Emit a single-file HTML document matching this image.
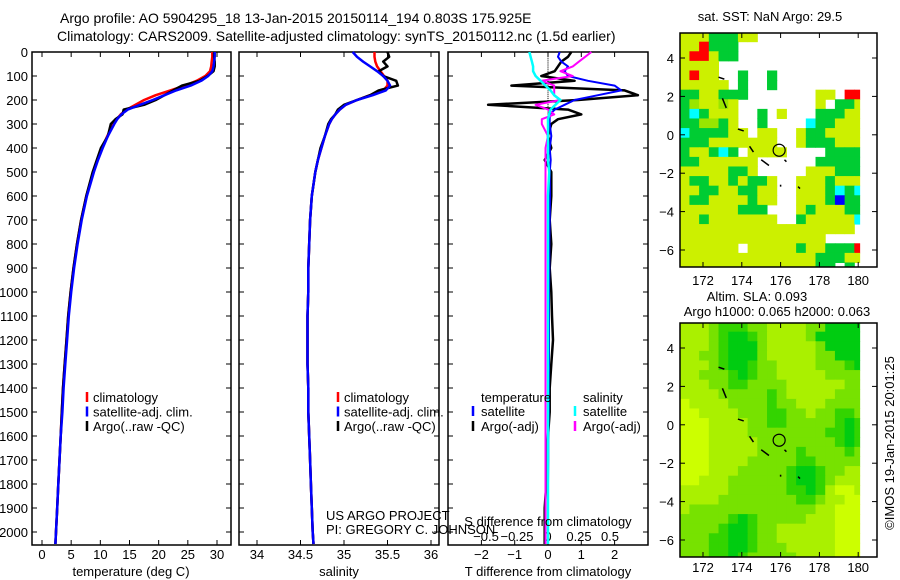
<!DOCTYPE html>
<html><head><meta charset="utf-8"><style>
body{margin:0;background:#fff}
svg{display:block;font-family:"Liberation Sans",sans-serif}
text{fill:#000}
</style></head><body>
<svg id="c" width="900" height="580" viewBox="0 0 900 580"></svg>
<script>
// ---------- data ----------
const depths=[0,20,40,60,80,100,120,140,160,180,200,220,240,260,280,300,350,400,450,500,600,700,800,900,1000,1100,1200,1300,1400,1500,1600,1700,1800,1900,2000,2050];
const tempClim=[29.2,29.2,29.1,29.0,28.8,28,26.5,24.5,22,19.5,17.5,16,14.5,13.5,12.8,12.2,11.2,10.3,9.5,8.8,7.6,6.7,6.0,5.4,4.9,4.5,4.2,3.9,3.6,3.4,3.2,3.0,2.8,2.6,2.4,2.3];
const tempSat=[29.6,29.6,29.5,29.4,29.2,28.5,27.3,25.5,23,21,19,16.8,14.7,13.6,12.9,12.4,11.3,10.4,9.6,8.9,7.7,6.8,6.1,5.5,5.0,4.6,4.3,4.0,3.7,3.5,3.2,3.0,2.8,2.6,2.4,2.3];
const tempArgo=[29.5,29.5,29.6,29.6,29.4,28.4,27,24,22.5,21,19.5,17.5,14.0,13.8,12.6,11.8,11.3,10.1,9.4,8.7,7.6,6.7,6.0,5.4,4.9,4.5,4.2,3.9,3.6,3.4,3.2,3.0,2.8,2.6,2.4,2.3];
const salClim=[35.35,35.35,35.36,35.38,35.42,35.46,35.5,35.5,35.45,35.3,35.15,35.02,34.95,34.9,34.86,34.83,34.78,34.74,34.7,34.67,34.63,34.61,34.6,34.59,34.59,34.58,34.58,34.58,34.59,34.59,34.6,34.61,34.62,34.63,34.64,34.65];
const salSat=[35.1,35.15,35.22,35.3,35.38,35.45,35.5,35.53,35.48,35.33,35.15,35.02,34.95,34.9,34.86,34.83,34.78,34.74,34.7,34.67,34.63,34.61,34.6,34.59,34.59,34.58,34.58,34.58,34.59,34.59,34.6,34.61,34.62,34.63,34.64,34.65];
const salArgo=[35.5,35.52,35.45,35.5,35.4,35.45,35.6,35.62,35.4,35.3,35.15,35.0,34.93,34.9,34.85,34.82,34.78,34.73,34.7,34.67,34.63,34.61,34.6,34.59,34.59,34.58,34.58,34.58,34.59,34.59,34.6,34.61,34.62,34.63,34.64,34.65];
const tDiffSat=[0.35,0.3,0.4,0.6,0.5,0.6,1.2,2.0,2.2,1.5,0.8,0.5,0.2,0.05,0.05,0.05,0.1,0.05,0.08,0.05,0.06,0.05,0.04,0.04,0.03,0.03,0.03,0.03,0.02,0.02,0.01,0.01,0.0,0.0,0.0,0.0];
const tDiffArgo=[0.7,0.6,0.4,0.3,0.2,-0.2,0.8,-1.1,2.3,2.7,0.9,-1.8,0.6,1.0,0.3,0.1,0.0,0.1,-0.1,0.1,0.1,0.05,0.1,0.05,0.1,0.12,0.15,0.1,0.05,0.05,0.0,-0.05,-0.05,-0.1,-0.1,-0.1];
const sDiffSat=[-0.15,-0.14,-0.13,-0.12,-0.12,-0.1,-0.06,-0.02,0.02,0.05,0.1,0.06,0.02,0.01,0.0,0.0,0.0,0.0,0.0,0.01,0.0,0.0,0.0,0.0,0.0,0.0,0.0,0.0,0.0,0.0,0.0,0.0,0.0,0.0,0.0,0.0];
const sDiffArgo=[0.35,0.3,0.25,0.2,0.1,0.2,-0.05,0.05,0.05,0.05,0.1,-0.1,0.0,0.05,-0.05,-0.05,0.0,-0.02,-0.02,-0.02,-0.02,-0.02,-0.02,-0.02,-0.02,-0.02,-0.02,-0.02,-0.02,-0.02,-0.02,-0.02,-0.02,-0.02,-0.02,-0.02];
const depthTicks=[0,100,200,300,400,500,600,700,800,900,1000,1100,1200,1300,1400,1500,1600,1700,1800,1900,2000];
const tempTicks=[0,5,10,15,20,25,30];
const salTicks=[34,34.5,35,35.5,36];
const tdTicks=[-2,-1,0,1,2];
const sdTicks=[-0.5,-0.25,0,0.25,0.5];
const lonTicks=[172,174,176,178,180];
const latTicks=[4,2,0,-2,-4,-6];
const sstGrid=[
"yyygggyywwwwwwwwwww","yyrgggwwwwwwwwwwwww","yrryggwwwwwwwwwwwww","yyyywwwwwwwwwwwwwww",
"yryywwgwwgwwwwwwwww","yyyyywgwwgwwwwwwwww","ggyygggwwwwwwwyywrr","gGyyGywwwwwwwwywggy",
"gcgyyywwgwywwwgggyy","ggGGgywwgwwwwcggyyy","cggggyywyywwyggyyyy","gggyyyyyyywwygggyyy",
"gyygcgwyyyywwwwgggg","ggyyyyyywwwwwwggggg","yyyyyggywwwwwyyyggg","yggyygyggywwyyygyyy",
"yyggyyggyywwyyygcgc","yggyyyygyywwyyygbgg","yyyyyygggwwwygyyygg","yygyyyyyyywwgyyyyyc",
"yyyyyyyyyyyyyyyyyyw","yyyyyyyyyyyyyyywwww","yyyyyywyyyyygyygggr","yyyyyyyyyyyyyygggyy","yyyyyyyyyyyyyyggwgw"];
const slaGrid=[
"lllmgggmmllllmmdddd","lllmgddgmllllmddddd","lllmgdddmlllllmdddd","llmmgdddmlllllmmddd",
"lllmgddgmmllllmmmgd","llmmmgdgmmlllllmmmm","lllmmggmmmmllllllmm","llllmmmmmgmlllllmmm",
"yllllmmmmgmmlllmmmm","yyllllmmmggmmlmmggm","yyyllllmmggmmmmmgdg","yyyllllmmmmmmmmggdg",
"yyylllllmmmmmmmmgdg","yyylllllmmmmgmmmmgm","yyyllllmmmmmggmmmmm","yyylllmmmmmgddgmmll",
"yylllmmmmmmgddgmlll","lllllmmmmmmggdglyyl","llllmmmmmmmmggmllyy","lmmmmmmmmmmmmmllyyy",
"mmmmmgdgmmmmmlllyyy","mmmmgddgmmllllllyyy","mmmggddgmmllllllyyy","mmmggddgmmmlllllyyy","mmmggdgmmmmmllllyyy"];
const argoLon=175.925, argoLat=-0.803;
// ---------- helpers ----------
const S=document.getElementById('c'),NS='http://www.w3.org/2000/svg';
function el(t,a,p){const e=document.createElementNS(NS,t);for(const k in a)e.setAttribute(k,a[k]);(p||S).appendChild(e);return e;}
function txt(x,y,s,anchor,size,name){const e=el('text',{x:x,y:y,'font-size':size||13,'text-anchor':anchor||'start'});e.textContent=s;


return e;}
const yD=d=>52+d*0.24;
const xT=t=>42+t*5.833;
const xS=s=>257+(s-34)*87;
const xTD=t=>548+t*33.3;
const xSD=s=>548+s*124;
function line(xf,vals,color,w,name){const pts=depths.map((d,i)=>xf(vals[i]).toFixed(1)+','+yD(d).toFixed(1)).join(' ');
const p=el('polyline',{points:pts,fill:'none',stroke:color,'stroke-width':w||2.5,'stroke-linejoin':'round'});


return p;}
function box(x0,y0,x1,y1,name){const r=el('rect',{x:x0,y:y0,width:x1-x0,height:y1-y0,fill:'none',stroke:'#000','stroke-width':1.5});

}
function depthAxis(x0,x1,labels){depthTicks.forEach(d=>{const y=yD(d);el('line',{x1:x0,y1:y,x2:x0+5,y2:y,stroke:'#000'});el('line',{x1:x1-5,y1:y,x2:x1,y2:y,stroke:'#000'});
if(labels)txt(x0-4,y+5,String(d),'end',13,'depth-tick-label');});}
function xAxis(ticks,xf,x0,y0,y1,labY,name,fmt){ticks.forEach(t=>{const x=xf(t);el('line',{x1:x,y1:y1,x2:x,y2:y1-5,stroke:'#000'});el('line',{x1:x,y1:y0,x2:x,y2:y0+5,stroke:'#000'});
if(labY)txt(x,labY,fmt?fmt(t):String(t),'middle',13,name);});}
function legendMark(x,y,color){const m=el('line',{x1:x,y1:y-10,x2:x,y2:y,stroke:color,'stroke-width':2.5});

}
// titles
txt(60,23,'Argo profile: AO 5904295_18 13-Jan-2015 20150114_194 0.803S 175.925E','start',14,'title-line-1');
txt(57,41,'Climatology: CARS2009. Satellite-adjusted climatology: synTS_20150112.nc (1.5d earlier)','start',14,'title-line-2');
// panel 1
const pTop=52,pBot=545;
box(32,pTop,231,pBot,'temperature-panel');
depthAxis(32,231,true);
xAxis(tempTicks,xT,32,pTop,pBot,559,'temperature-tick-label');
line(xT,tempClim,'#f00',2.5,'temperature-climatology-line');
line(xT,tempArgo,'#000',2.5,'temperature-argo-line');
line(xT,tempSat,'#00f',2.5,'temperature-satellite-line');
txt(131,576,'temperature (deg C)','middle',13,'temperature-axis-title');
[['climatology','#f00'],['satellite-adj. clim.','#00f'],['Argo(..raw -QC)','#000']].forEach((l,i)=>{legendMark(87,402+i*14.5,l[1]);txt(93,402+i*14.5,l[0],'start',13,'legend-entry');});
// panel 2
box(239,pTop,439,pBot,'salinity-panel');
depthAxis(239,439,false);
xAxis(salTicks,xS,239,pTop,pBot,559,'salinity-tick-label');
line(xS,salClim,'#f00',2.5,'salinity-climatology-line');
line(xS,salArgo,'#000',2.5,'salinity-argo-line');
line(xS,salSat,'#00f',2.5,'salinity-satellite-line');
txt(339,576,'salinity','middle',13,'salinity-axis-title');
[['climatology','#f00'],['satellite-adj. clim.','#00f'],['Argo(..raw -QC)','#000']].forEach((l,i)=>{legendMark(338,402+i*14.5,l[1]);txt(344,402+i*14.5,l[0],'start',13,'legend-entry');});
txt(326,520,'US ARGO PROJECT','start',13,'project-credit');
txt(326,534,'PI: GREGORY C. JOHNSON','start',13,'pi-credit');
// panel 3
box(448,pTop,648,pBot,'difference-panel');
depthAxis(448,648,false);
xAxis(tdTicks,xTD,448,pTop,pBot,559,'t-diff-tick-label',t=>t<0?'\u2212'+(-t):String(t));
sdTicks.forEach(t=>txt(xSD(t),541,t<0?'\u2212'+(-t):String(t),'middle',13,'s-diff-tick-label'));
for(let d=0;d<=400;d+=8)el('rect',{x:547.5,y:yD(d),width:1,height:1,fill:'#000'});
line(xTD,tDiffArgo,'#000',2.5,'t-diff-argo-line');
line(xTD,tDiffSat,'#00f',2,'t-diff-satellite-line');
line(xSD,sDiffArgo,'#f0f',2,'s-diff-argo-line');
line(xSD,sDiffSat,'#0ff',2.5,'s-diff-satellite-line');
txt(548,526,'S difference from climatology','middle',13,'s-diff-axis-title');
txt(548,576,'T difference from climatology','middle',13,'t-diff-axis-title');
txt(481,402,'temperature','start',13,'legend-heading-temperature');
txt(583,402,'salinity','start',13,'legend-heading-salinity');
legendMark(473,416,'#00f');txt(481,416,'satellite','start',13,'legend-entry');
legendMark(473,431,'#000');txt(481,431,'Argo(-adj)','start',13,'legend-entry');
legendMark(575,416,'#0ff');txt(583,416,'satellite','start',13,'legend-entry');
legendMark(575,431,'#f0f');txt(583,431,'Argo(-adj)','start',13,'legend-entry');
// maps
const sstCol={y:'#ccf000',G:'#99e600',g:'#00cc33',c:'#00ffff',r:'#ff0000',b:'#0000ff'};
const slaCol={y:'#ccff00',l:'#aaf000',m:'#77e200',g:'#33d400',d:'#00cc11'};
function map(y0,y1,lat4y,grid,cols,name){
 const x0=680,x1=877,lonX=l=>703+(l-172)*19.4,latY=a=>lat4y+(4-a)*19.2;
 const g=el('g',{});
 const clip=el('clipPath',{id:name+'-clip'});el('rect',{x:x0,y:y0,width:lonX(180.1)-x0,height:y1-y0},clip);
 const gg=el('g',{'clip-path':'url(#'+name+'-clip)'},g);
 grid.forEach((row,r)=>{for(let c=0;c<row.length;c++){const k=row[c];if(!cols[k])continue;
  const lo=170.8+c*0.5,la=5.35-r*0.5;
  const cell=el('rect',{x:lonX(lo),y:latY(la),width:19.4*0.5+0.5,height:19.2*0.5+0.5,fill:cols[k]},gg);
  
  }});
 [[172.8,3.0,173.1,2.9],[173.0,1.9,173.2,1.4],[173.8,0.3,174.1,0.2],[174.4,-0.6,174.6,-0.9],[175.0,-1.3,175.4,-1.6],[176.2,-1.3,176.3,-1.4],[176.9,-2.7,177.0,-2.8],[176.0,-2.6,176.0,-2.7]].forEach(s=>el('line',{x1:lonX(s[0]),y1:latY(s[1]),x2:lonX(s[2]),y2:latY(s[3]),stroke:'#000','stroke-width':1.5},g));
 el('circle',{cx:lonX(argoLon),cy:latY(argoLat),r:6,fill:'none',stroke:'#000','stroke-width':1.2},g);
 box(x0,y0,x1,y1,name+'-frame');
 lonTicks.forEach(l=>{const x=lonX(l);el('line',{x1:x,y1:y1,x2:x,y2:y1-5,stroke:'#000'});el('line',{x1:x,y1:y0,x2:x,y2:y0+5,stroke:'#000'});});
 latTicks.forEach(a=>{const y=latY(a);el('line',{x1:x0,y1:y,x2:x0+5,y2:y,stroke:'#000'});el('line',{x1:x1-5,y1:y,x2:x1,y2:y,stroke:'#000'});
  txt(x0-6,y+5,a<0?'\u2212'+(-a):String(a),'end',13,'lat-tick-label');});
 return lonX;}
const lx1=map(33,267,58,sstGrid,sstCol,'sst-map');
map(323,557,348,slaGrid,slaCol,'sla-map');
lonTicks.forEach(l=>{txt(lx1(l),285,String(l),'middle',13,'lon-tick-label');txt(lx1(l),572,String(l),'middle',13,'lon-tick-label');});
txt(770,21,'sat. SST: NaN Argo: 29.5','middle',13,'sst-map-title');
txt(757,301,'Altim. SLA: 0.093','middle',13,'sla-map-title');
txt(777,316,'Argo h1000: 0.065 h2000: 0.063','middle',13,'argo-height-title');
const rt=txt(0,0,'\u00a9IMOS 19-Jan-2015 20:01:25','middle',13,'timestamp-credit');
rt.setAttribute('transform','translate(894,443) rotate(-90)');
</script>
</body></html>
